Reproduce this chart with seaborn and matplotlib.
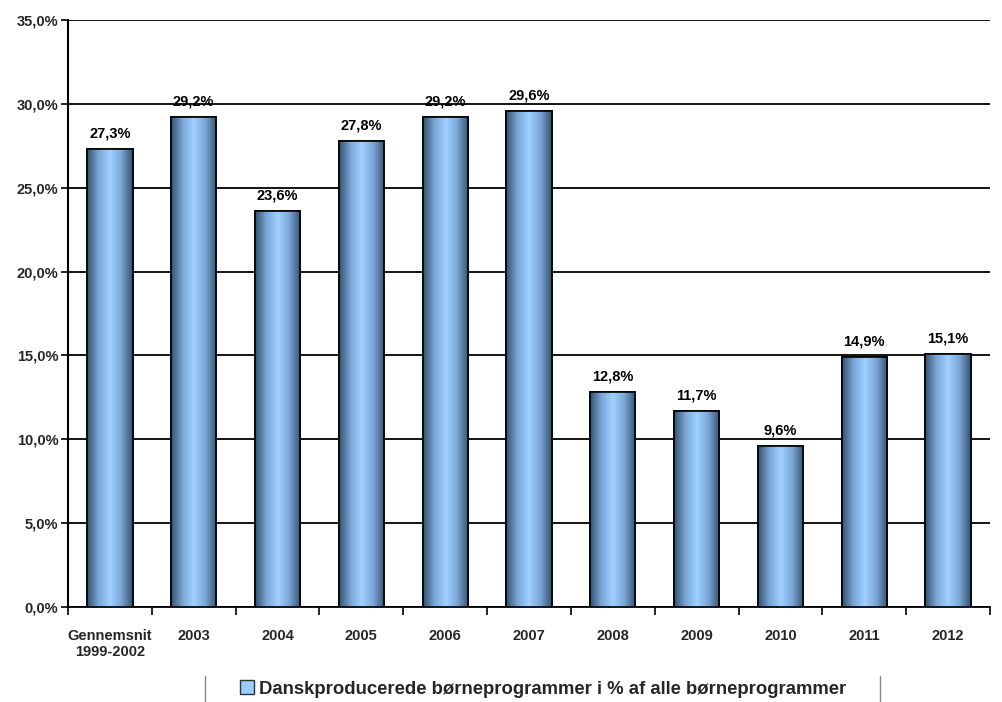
import numpy as np
import pandas as pd
import matplotlib
matplotlib.use('Agg')
import matplotlib.pyplot as plt
import matplotlib.ticker as mtick
from matplotlib.colors import LinearSegmentedColormap
from matplotlib.patches import Rectangle
from matplotlib.lines import Line2D
import seaborn as sns

# data
categories = ['Gennemsnit\n1999-2002', '2003', '2004', '2005', '2006', '2007',
              '2008', '2009', '2010', '2011', '2012']
values = [27.3, 29.2, 23.6, 27.8, 29.2, 29.6, 12.8, 11.7, 9.6, 14.9, 15.1]
series_name = 'Danskproducerede børneprogrammer i % af alle børneprogrammer'

sns.set_theme(style='white')
plt.rcParams['font.family'] = ['Liberation Sans', 'DejaVu Sans']

df = pd.DataFrame({'kategori': categories, 'andel': values})

fig = plt.figure(figsize=(10.02, 7.02), dpi=100)
ax = fig.add_axes([68 / 1002, 1 - 607 / 702, (990 - 68) / 1002, (607 - 20) / 702])

sns.barplot(data=df, x='kategori', y='andel', ax=ax, color='#99ccff',
            width=0.54, edgecolor='black', linewidth=1.2, zorder=3)

# gradient fill inside each bar (dark edges, light centre)
cmap = LinearSegmentedColormap.from_list(
    'bar', ['#34506f', '#7aa6d6', '#9fd0ff', '#7aa6d6', '#34506f'])
grad = np.linspace(0, 1, 256).reshape(1, -1)
for p in ax.patches:
    x0, y0 = p.get_x(), p.get_y()
    w, h = p.get_width(), p.get_height()
    im = ax.imshow(grad, cmap=cmap, aspect='auto',
                   extent=(x0, x0 + w, y0, y0 + h), zorder=3.5)
    im.set_clip_path(p)
    ax.add_patch(Rectangle((x0, y0), w, h, fill=False, edgecolor='black',
                           linewidth=1.2, zorder=4))
    ax.text(x0 + w / 2, y0 + h + 0.5, f'{h:.1f}%'.replace('.', ','),
            ha='center', va='bottom', fontsize=10.5, fontweight='bold',
            color='black', zorder=5)

ax.set_xlim(-0.5, len(categories) - 0.5)
ax.set_ylim(0, 35)
ax.set_yticks(np.arange(0, 36, 5))
ax.yaxis.set_major_formatter(mtick.FuncFormatter(lambda v, _: f'{v:.1f}%'.replace('.', ',')))
ax.grid(True, axis='y', color='black', linewidth=1.3, zorder=0)
ax.set_axisbelow(True)

for side in ['top', 'right']:
    ax.spines[side].set_visible(False)
ax.spines['left'].set_color('black')
ax.spines['left'].set_linewidth(1.5)
ax.spines['bottom'].set_color('black')
ax.spines['bottom'].set_linewidth(1.3)

ax.set_xlabel('')
ax.set_ylabel('')
ax.tick_params(axis='y', left=True, length=5, width=1.2, color='black',
               labelsize=10.5, pad=2)
ax.tick_params(axis='x', bottom=False, labelsize=10.5, pad=10)
for lab in ax.get_xticklabels() + ax.get_yticklabels():
    lab.set_fontweight('bold')
# tick marks between categories
ax.set_xticks(np.arange(-0.5, len(categories), 1), minor=True)
ax.tick_params(axis='x', which='minor', bottom=True, length=6, width=1.2,
               color='black', direction='out')

# legend below the plot
handle = Rectangle((0, 0), 1, 1, facecolor='#99ccff', edgecolor='#333333',
                   linewidth=1)
leg = fig.legend([handle], [series_name], loc='center',
                 bbox_to_anchor=(0.542, 1 - 689 / 702), frameon=False,
                 prop={'weight': 'bold', 'size': 13.3}, handlelength=0.75,
                 handleheight=0.75, handletextpad=0.3)
for xpix in (205, 880):
    fig.add_artist(Line2D([xpix / 1002, xpix / 1002],
                          [1 - 676 / 702, 1 - 702 / 702],
                          color='#888888', linewidth=1))

fig.savefig('out.png', dpi=100)
